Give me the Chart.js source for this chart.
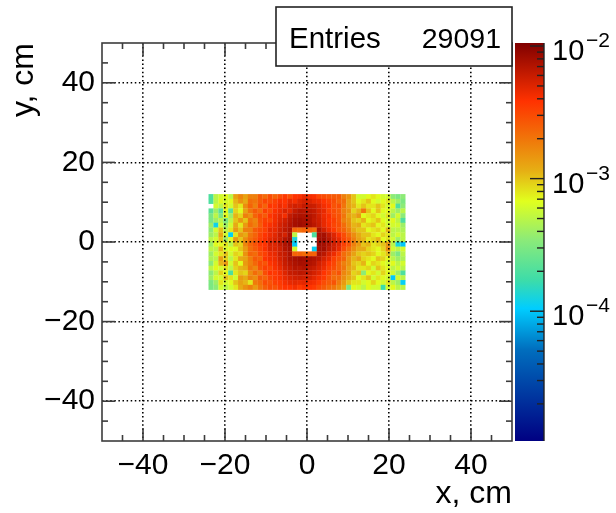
<!DOCTYPE html>
<html>
<head>
<meta charset="utf-8">
<style>
html, body { margin: 0; padding: 0; background: #fff; }
canvas { display: block; }
</style>
<script src="https://cdn.jsdelivr.net/npm/chart.js@4"></script>
</head>
<body>
<canvas id="hist" width="616" height="513"></canvas>
<script>
// bins of the 2D histogram, 1.2 cm wide
const binWidth = 1.2;
const xStart = -24;
const yStart = 12;

// values in units of 1e-4, top row first, 0 = empty bin
const cells = [
  [2,5,6,7,5,13,17,13,18,18,26,22,30,24,30,36,30,38,40,46,42,40,32,30,28,26,26,18,15,10,6,6,7,8,7,6,6,3.5,3,3.5],
  [2,5,7,6,7,11,15,12,22,20,26,32,30,34,40,38,46,42,50,54,52,46,44,38,34,30,24,22,13,10,7,8,10,7,6,7,8,5,4,3],
  [0,6,5,8,6,10,8,16,24,18,30,24,38,36,44,40,52,56,54,62,60,58,50,42,38,28,30,20,13,11,8,10,8,8,10,8,6,7,2,3.5],
  [2.2,4,2.2,7,2.2,9,7,13,20,26,22,34,30,40,44,52,48,62,70,68,66,62,52,46,34,30,26,18,15,9,11,20,10,7,10,7,7,5,4,5],
  [3,5,3,7,4,11,9,18,15,24,30,26,38,42,48,42,62,70,74,72,70,64,54,44,40,30,28,20,13,11,14,7,8,9,7,6,8,4,6,3.5],
  [3,4,5,3,5,10,14,10,20,17,28,34,32,42,50,56,66,76,80,76,72,62,56,46,38,34,28,18,15,10,9,11,7,8,10,7,6,7,5,2],
  [4,1.2,6,4,6,12,8,14,22,18,26,36,40,44,54,60,70,78,82,78,74,66,58,46,40,32,30,22,16,11,12,8,9,10,7,8,6,6,6,4],
  [3.5,6,10,5,8,14,10,18,18,26,30,34,46,46,56,64,72,24,22,24,24,22,72,56,44,36,28,24,18,12,10,10,7,8,9,7,11,5,5,4.5],
  [4,5,12,6,1.1,8,14,12,20,24,32,38,44,48,60,54,76,5,0,0,0,2,76,78,62,50,40,30,22,16,12,10,10,8,7,9,8,5,6,5],
  [5,6,10,4,7,14,10,16,22,26,34,40,48,52,58,70,80,1.3,0,0,0,0,80,82,68,54,46,32,26,18,13,11,8,9,11,7,8,6,4,5],
  [4,7,7,8,5,10,9,17,24,28,36,38,52,50,62,72,84,1,0,0,0,0,84,78,70,56,50,34,28,18,14,10,11,8,9,10,14,5,1.3,1],
  [5,5,11,6,7,7,10,14,22,26,32,40,50,50,56,70,78,6,0,0,0,1.1,78,80,64,56,46,30,22,16,12,12,9,8,7,9,16,6,5,6],
  [4,6,8,10,6,9,8,15,24,22,30,34,44,46,58,62,74,24,24,22,24,24,74,66,52,44,32,22,18,13,10,9,10,9,7,8,10,4,3,5],
  [4.5,5,13,9,5,8,12,13,19,26,24,38,42,44,54,62,74,78,82,80,76,72,66,54,46,34,28,24,15,11,13,9,8,7,10,9,7,5,4,4.5],
  [3.5,6,11,14,6,10,7,14,18,23,30,28,38,42,50,60,68,74,78,76,72,68,56,48,38,32,24,18,15,10,9,11,7,9,8,7,6,7,5,6],
  [5,7,6,8,5,9,11,12,20,17,28,34,32,40,46,56,62,70,68,72,64,60,52,44,34,30,24,20,13,11,8,8,9,6,10,8,7,5,6,5],
  [3.5,5,9,7,2,8,10,9,16,22,18,30,38,36,42,50,60,62,66,64,60,54,48,38,32,24,28,17,14,9,10,3.5,7,8,6,9,7,6,4,2],
  [4,6,6,10,8,6,14,12,18,16,26,24,32,36,40,46,52,56,58,56,54,48,42,36,28,22,22,16,12,10,7,8,10,6,8,7,6,1,6,5],
  [3,4,8,6,7,10,13,11,8,19,22,30,28,34,36,42,46,48,46,48,44,42,36,30,26,28,19,14,10,8,8,6,7,9,7,6,8,5,4,1.1],
  [3,3.5,6,5,6,8,12,15,18,14,20,25,30,28,34,38,38,42,36,40,38,36,30,26,22,20,16,12,3,7,6,5,7,6,6,1.7,6,7,5,5]
];

const axisTicks = [-40, -20, 0, 20, 40];
const minorTicks = [-45, -35, -30, -25, -15, -10, -5, 5, 10, 15, 25, 30, 35, 45];
const entriesLabel = 'Entries';
const entriesValue = '29091';

// colour palette: log10(value) and colour, bottom of the bar to the top
const paletteLogs = [-4.98, -4.29, -3.98, -3.77, -3.46, -3.17, -2.94, -2.71, -2.415, -1.977];
const paletteColors = [
  [0, 0, 130], [0, 110, 190], [0, 205, 255], [60, 220, 170], [140, 235, 120],
  [225, 255, 30], [230, 175, 20], [240, 120, 10], [255, 50, 0], [128, 0, 0]
];
const colorMin = 1.05e-5;
const colorMax = 1.054e-2;
const colorDecades = [-2, -3, -4];
const colorMinors = [2, 3, 4, 5, 6, 7, 8, 9];

const FONT = '"Liberation Sans", Arial, sans-serif';
const FRAME = '#3c3c3c';

function paletteColor(val) {
  const l = Math.log10(val);
  let i = 0;
  while (i < paletteLogs.length - 2 && l > paletteLogs[i + 1]) i++;
  const t = Math.min(1, Math.max(0, (l - paletteLogs[i]) / (paletteLogs[i + 1] - paletteLogs[i])));
  const c = paletteColors[i].map((v, k) => Math.round(v + (paletteColors[i + 1][k] - v) * t));
  return `rgb(${c[0]},${c[1]},${c[2]})`;
}

const points = [];
const pointColors = [];
cells.forEach(function (row, r) {
  row.forEach(function (val, c) {
    if (val === 0) return;
    points.push({ x: xStart + (c + 0.5) * binWidth, y: yStart - (r + 0.5) * binWidth });
    pointColors.push(paletteColor(val * 1e-4));
  });
});

function minusLabel(val) {
  return String(val).replace('-', '\u2212');
}

// ROOT style frame with inward ticks, colour bar and stats box
const rootDecor = {
  id: 'rootDecor',
  afterDraw(chart) {
    const ctx = chart.ctx;
    const a = chart.chartArea;
    const sx = chart.scales.x;
    const sy = chart.scales.y;
    const sc = chart.scales.yColor;

    ctx.save();
    ctx.strokeStyle = FRAME;
    ctx.lineWidth = 1.6;
    function tick(x1, y1, x2, y2) {
      ctx.beginPath();
      ctx.moveTo(x1, y1);
      ctx.lineTo(x2, y2);
      ctx.stroke();
    }
    function xTicks(vals, len) {
      for (const v of vals) {
        const p = sx.getPixelForValue(v);
        tick(p, a.bottom, p, a.bottom - len);
        tick(p, a.top, p, a.top + len);
      }
    }
    function yTicks(vals, len) {
      for (const v of vals) {
        const p = sy.getPixelForValue(v);
        tick(a.left, p, a.left + len, p);
        tick(a.right, p, a.right - len, p);
      }
    }
    xTicks(axisTicks, 13);
    xTicks(minorTicks, 6);
    yTicks(axisTicks, 13);
    yTicks(minorTicks, 6);
    ctx.strokeRect(a.left, a.top, a.right - a.left, a.bottom - a.top);

    // colour bar
    const barLeft = 515;
    const barRight = 544;
    const barTop = sc.getPixelForValue(colorMax);
    const barBottom = sc.getPixelForValue(colorMin);
    const grad = ctx.createLinearGradient(0, barBottom, 0, barTop);
    paletteLogs.forEach(function (l, i) {
      const c = paletteColors[i];
      const pos = (sc.getPixelForValue(Math.pow(10, l)) - barBottom) / (barTop - barBottom);
      grad.addColorStop(Math.min(1, Math.max(0, pos)), `rgb(${c[0]},${c[1]},${c[2]})`);
    });
    ctx.fillStyle = grad;
    ctx.fillRect(barLeft, barTop, barRight - barLeft, barBottom - barTop);

    ctx.strokeStyle = '#222';
    ctx.lineWidth = 1.4;
    tick(barRight, barTop, barRight, barBottom);
    for (const d of colorDecades) {
      const p = sc.getPixelForValue(Math.pow(10, d));
      tick(barRight, p, barRight - 14, p);
    }
    for (const d of [-5, -4, -3]) {
      for (const m of colorMinors) {
        const v = m * Math.pow(10, d);
        if (v < colorMin || v > colorMax) continue;
        const p = sc.getPixelForValue(v);
        tick(barRight, p, barRight - 7, p);
      }
    }

    // colour bar labels
    ctx.fillStyle = '#000';
    ctx.textAlign = 'left';
    ctx.textBaseline = 'alphabetic';
    for (const d of colorDecades) {
      const p = sc.getPixelForValue(Math.pow(10, d));
      ctx.font = '29px ' + FONT;
      ctx.fillText('10', 552, p + 14);
      ctx.font = '21px ' + FONT;
      ctx.fillText(minusLabel(d), 586, p + 1);
    }

    // stats box
    ctx.fillStyle = '#fff';
    ctx.fillRect(276, 7, 236, 59);
    ctx.strokeStyle = '#222';
    ctx.lineWidth = 1.6;
    ctx.strokeRect(276, 7, 236, 59);
    ctx.fillStyle = '#000';
    ctx.font = '29.5px ' + FONT;
    ctx.textAlign = 'left';
    ctx.fillText(entriesLabel, 289, 48);
    ctx.font = '28.5px ' + FONT;
    ctx.textAlign = 'right';
    ctx.fillText(entriesValue, 501, 48);
    ctx.restore();
  }
};

function setTicks(axis) {
  axis.ticks = axisTicks.map(function (v) { return { value: v }; });
}

const gridOpts = { color: '#000', lineWidth: 1.6, drawTicks: false, z: 1 };
const borderOpts = { display: false, dash: [1.5, 2.6] };

new Chart(document.querySelector('#hist').getContext('2d'), {
  type: 'scatter',
  data: {
    datasets: [{
      label: 'hits',
      data: points,
      pointStyle: 'rect',
      pointRadius: 3.6,
      pointBorderWidth: 0,
      pointHoverRadius: 3.6,
      pointBackgroundColor: pointColors,
      showLine: false
    }]
  },
  options: {
    responsive: false,
    animation: false,
    events: [],
    layout: { padding: { top: 43, left: 0, right: 0, bottom: 0 } },
    plugins: { legend: { display: false }, tooltip: { enabled: false } },
    scales: {
      x: {
        type: 'linear',
        min: -50,
        max: 50,
        afterBuildTicks: setTicks,
        afterFit: function (axis) { axis.height = 72; },
        grid: gridOpts,
        border: borderOpts,
        ticks: {
          maxRotation: 0,
          padding: 7,
          color: '#000',
          font: { family: FONT, size: 30 },
          callback: minusLabel
        },
        title: {
          display: true,
          text: 'x, cm',
          align: 'end',
          color: '#000',
          font: { family: FONT, size: 32 },
          padding: { top: 0, bottom: 0 }
        }
      },
      y: {
        type: 'linear',
        min: -50,
        max: 50,
        afterBuildTicks: setTicks,
        afterFit: function (axis) { axis.width = 102; },
        grid: gridOpts,
        border: borderOpts,
        ticks: {
          padding: 7,
          color: '#000',
          font: { family: FONT, size: 30 },
          callback: minusLabel
        },
        title: {
          display: true,
          text: 'y, cm',
          align: 'end',
          color: '#000',
          font: { family: FONT, size: 32 },
          padding: { top: 5, bottom: 0 }
        }
      },
      yColor: {
        type: 'logarithmic',
        position: 'right',
        min: colorMin,
        max: colorMax,
        afterFit: function (axis) { axis.width = 104; },
        grid: { display: false },
        border: { display: false },
        ticks: { display: false }
      }
    }
  },
  plugins: [rootDecor]
});
</script>
</body>
</html>
